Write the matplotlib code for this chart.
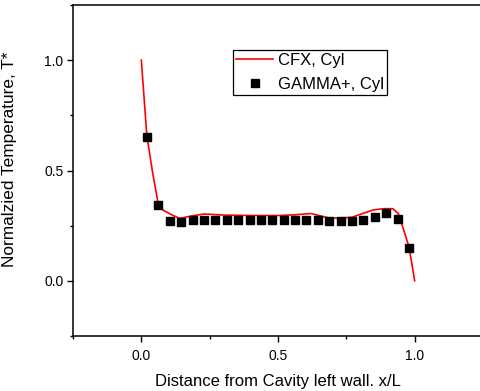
import matplotlib
matplotlib.use("Agg")
import matplotlib.pyplot as plt
from matplotlib.ticker import MultipleLocator

plt.rcParams['font.family'] = ['Liberation Sans', 'DejaVu Sans']

# CFX line data
cfx_x = [0.0, 0.02, 0.04, 0.06, 0.08, 0.11, 0.14, 0.18, 0.23, 0.30, 0.40, 0.50, 0.56,
         0.62, 0.66, 0.69, 0.73, 0.77, 0.81, 0.85, 0.89, 0.92, 0.94, 0.96, 0.98, 1.0]
cfx_y = [1.0, 0.66, 0.50, 0.36, 0.32, 0.30, 0.283, 0.293, 0.303, 0.298, 0.296, 0.296, 0.299,
         0.305, 0.293, 0.284, 0.285, 0.288, 0.305, 0.322, 0.327, 0.327, 0.305, 0.23, 0.15, 0.0]

# GAMMA+ markers
gam_x = [(i + 0.5) / 24 for i in range(24)]
gam_y = [0.651, 0.345, 0.273, 0.267, 0.274, 0.276, 0.276, 0.276, 0.276, 0.276, 0.276, 0.276,
         0.277, 0.277, 0.277, 0.276, 0.273, 0.273, 0.273, 0.277, 0.291, 0.306, 0.282, 0.151]

xticks = [0.0, 0.5, 1.0]
yticks = [0.0, 0.5, 1.0]

W, H = 481, 391
fig = plt.figure(figsize=(W / 100, H / 100), dpi=100)
ax = fig.add_axes([73 / W, (H - 336) / H, 410 / W, 331 / H])

ax.plot(cfx_x, cfx_y, color='#ff0000', lw=1.2, label='CFX, Cyl')
ax.plot(gam_x, gam_y, ls='none', marker='s', ms=5.6, color='black', label='GAMMA+, Cyl')

ax.set_xlim(-0.25, 1.25)
ax.set_ylim(-0.25, 1.25)
ax.set_xticks(xticks)
ax.set_yticks(yticks)
ax.set_xticklabels([f"{v:.1f}" for v in xticks])
ax.set_yticklabels([f"{v:.1f}" for v in yticks])
ax.xaxis.set_minor_locator(MultipleLocator(0.25))
ax.yaxis.set_minor_locator(MultipleLocator(0.25))
ax.tick_params(which='major', direction='out', length=4, width=1, labelsize=10, pad=3)
ax.tick_params(which='minor', direction='out', length=2.5, width=1)
ax.tick_params(axis='x', pad=5)
for s in ['left', 'bottom', 'top']:
    ax.spines[s].set_linewidth(1.1)
ax.spines['right'].set_visible(False)

ax.set_xlabel('Distance from Cavity left wall. x/L', fontsize=12, labelpad=8)
ax.set_ylabel('Normalzied Temperature, T*', fontsize=12.4)
ax.yaxis.set_label_coords((17.5 - 73) / 410, (336 - 159.5) / 331)

leg = ax.legend(loc='upper left', bbox_to_anchor=(233 / W, 1 - 50 / H),
                bbox_transform=fig.transFigure, fontsize=12, frameon=True,
                fancybox=False, edgecolor='black', framealpha=1,
                handlelength=2.2, handletextpad=0.3, borderpad=0.2,
                labelspacing=0.5, borderaxespad=0)
leg.get_frame().set_linewidth(0.9)

fig.savefig('out.png', dpi=100)
